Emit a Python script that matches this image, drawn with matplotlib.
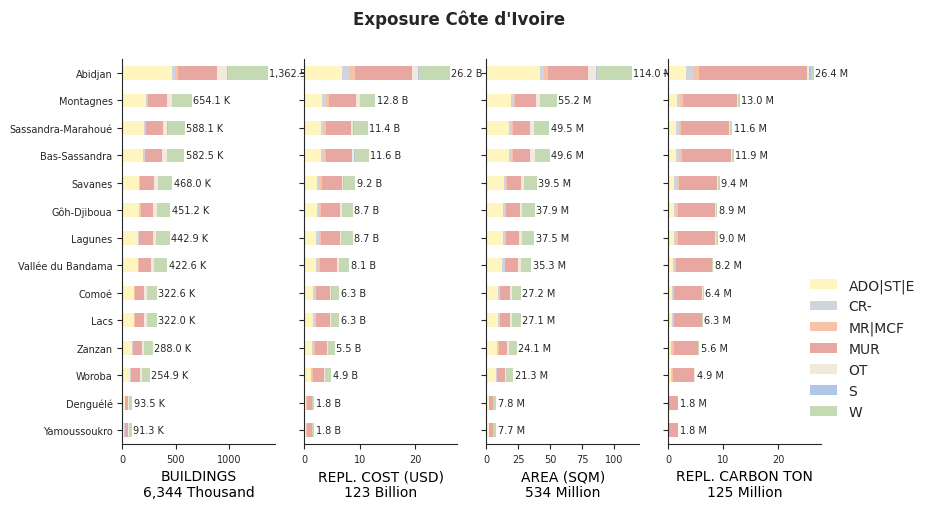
import numpy as np
import matplotlib
matplotlib.use("Agg")
import matplotlib.pyplot as plt

# Regions (top to bottom) and building-type categories
regions = [
    "Abidjan", "Montagnes", "Sassandra-Marahoué", "Bas-Sassandra", "Savanes",
    "Gôh-Djiboua", "Lagunes", "Vallée du Bandama", "Comoé", "Lacs",
    "Zanzan", "Woroba", "Denguélé", "Yamoussoukro",
]
categories = ["ADO|ST|E", "CR-", "MR|MCF", "MUR", "OT", "S", "W"]
colors = ["#fff5bf", "#d0d4df", "#f5c3a6", "#e8a7a1", "#f3e8de", "#b1c5e6", "#c5d9b3"]

# one row per region, columns follow `categories`
buildings_k = [  # thousands of buildings
    [467, 29, 25, 366, 95, 10, 370.5],
    [219, 10, 15, 175, 48, 0, 187.1],
    [200, 16, 3, 165, 38, 2, 164.1],
    [191, 22, 3, 156, 48, 0, 162.5],
    [153, 10, 6, 127, 38, 0, 134.0],
    [153, 13, 6, 114, 38, 0, 127.2],
    [143, 12, 4, 127, 29, 0, 127.9],
    [143, 3, 7, 114, 29, 0, 126.6],
    [105, 8, 2, 86, 29, 0, 92.6],
    [105, 8, 2, 86, 29, 0, 92.0],
    [95, 2, 4, 80, 19, 0, 88.0],
    [76, 7, 3, 76, 19, 0, 73.9],
    [22, 4, 4, 24, 8, 0, 31.5],
    [20, 4, 4, 24, 8, 0, 31.3],
]
cost_b = [  # replacement cost, billion USD
    [6.85, 1.27, 1.09, 10.18, 1.09, 0.18, 5.54],
    [3.21, 0.73, 0.55, 4.91, 0.55, 0, 2.85],
    [3.03, 0.55, 0.36, 4.55, 0.36, 0.18, 2.37],
    [3.03, 0.55, 0.36, 4.73, 0.36, 0.18, 2.39],
    [2.30, 0.36, 0.55, 3.64, 0.18, 0.18, 1.99],
    [2.30, 0.36, 0.36, 3.45, 0.36, 0, 1.87],
    [2.12, 0.55, 0.36, 3.45, 0.18, 0, 2.04],
    [2.12, 0.36, 0.36, 3.09, 0.36, 0, 1.81],
    [1.58, 0.45, 0.10, 2.55, 0.20, 0.15, 1.27],
    [1.58, 0.45, 0.10, 2.55, 0.18, 0, 1.44],
    [1.39, 0.36, 0.18, 2.18, 0.18, 0, 1.21],
    [1.21, 0.18, 0.18, 2.00, 0.18, 0, 1.15],
    [0.30, 0.05, 0.10, 0.95, 0.05, 0, 0.35],
    [0.32, 0.06, 0.08, 0.95, 0.05, 0, 0.34],
]
area_m = [  # floor area, million sqm
    [41.8, 3.2, 3.2, 31.7, 6.3, 0.8, 27.0],
    [19.6, 2.1, 1.1, 15.9, 3.2, 0, 13.3],
    [18.0, 2.1, 0.5, 14.0, 2.4, 0.5, 12.0],
    [18.0, 2.1, 0.5, 14.0, 3.2, 0, 11.8],
    [14.0, 1.6, 0.8, 11.1, 2.4, 0, 9.6],
    [13.2, 1.6, 0.8, 11.1, 1.6, 0, 9.6],
    [13.2, 1.6, 0.8, 10.3, 2.4, 0, 9.2],
    [12.4, 2.1, 0.5, 9.8, 2.4, 0, 8.1],
    [9.3, 1.3, 0, 8.2, 1.6, 0, 6.8],
    [9.3, 1.3, 0, 8.2, 1.6, 0, 6.7],
    [8.5, 0.6, 0.7, 6.6, 1.6, 0, 6.1],
    [7.7, 0.8, 0, 6.3, 0.8, 0, 5.7],
    [1.9, 0.3, 0.2, 3.0, 0.2, 0, 2.2],
    [1.8, 0.3, 0.2, 3.0, 0.2, 0, 2.2],
]
carbon_m = [  # replacement carbon, million tons
    [3.25, 1.29, 1.10, 19.47, 0.49, 0.25, 0.55],
    [1.60, 0.55, 0.55, 9.68, 0.25, 0, 0.37],
    [1.41, 0.55, 0.37, 8.70, 0.20, 0, 0.37],
    [1.41, 0.55, 0.55, 8.84, 0.20, 0, 0.35],
    [1.04, 0.55, 0.37, 6.94, 0.20, 0, 0.30],
    [1.04, 0.37, 0.37, 6.72, 0.20, 0, 0.20],
    [1.04, 0.37, 0.37, 6.67, 0.20, 0, 0.35],
    [0.85, 0.30, 0.30, 6.45, 0.10, 0, 0.20],
    [0.60, 0.25, 0.25, 5.05, 0.10, 0, 0.15],
    [0.60, 0.25, 0.25, 4.95, 0.10, 0, 0.15],
    [0.50, 0.20, 0.25, 4.45, 0.08, 0, 0.12],
    [0.45, 0.15, 0.20, 3.92, 0.06, 0, 0.12],
    [0.10, 0.02, 0.05, 1.60, 0.01, 0, 0.02],
    [0.10, 0.02, 0.05, 1.60, 0.01, 0, 0.02],
]

panels = [
    (buildings_k, "BUILDINGS", "{:,.1f} K", "{:,.0f} Thousand"),
    (cost_b, "REPL. COST (USD)", "{:,.1f} B", "{:,.0f} Billion"),
    (area_m, "AREA (SQM)", "{:,.1f} M", "{:,.0f} Million"),
    (carbon_m, "REPL. CARBON TON", "{:,.1f} M", "{:,.0f} Million"),
]

plt.rcParams["text.color"] = ".15"
plt.rcParams["axes.edgecolor"] = ".15"
plt.rcParams["xtick.color"] = ".15"
plt.rcParams["ytick.color"] = ".15"

fig, axes = plt.subplots(1, 4, figsize=(9.3, 5.1), dpi=100, sharey=True)
fig.subplots_adjust(left=0.1315, right=0.8828, bottom=0.1275, top=0.882, wspace=0.192)

y = np.arange(len(regions))
for ax, (data, name, fmt, total_fmt) in zip(axes, panels):
    vals = np.array(data, dtype=float)
    left = np.zeros(len(regions))
    handles = []
    for j, cat in enumerate(categories):
        bars = ax.barh(y, vals[:, j], left=left, height=0.5, color=colors[j],
                       label=cat, linewidth=0)
        handles.append(bars)
        left += vals[:, j]
    ax.bar_label(bars, labels=[fmt.format(t) for t in left], padding=1, fontsize=7)
    ax.set_xlabel(f"{name}\n{total_fmt.format(left.sum())}", fontsize=10)
    ax.tick_params(axis="both", labelsize=7)
    ax.spines["top"].set_visible(False)
    ax.spines["right"].set_visible(False)

axes[0].set_yticks(y)
axes[0].set_yticklabels(regions)
axes[0].set_ylim(len(regions) - 0.5, -0.5)

fig.legend(handles, categories, loc="center left", bbox_to_anchor=(0.857, 0.315),
           frameon=False, fontsize=10)
fig.suptitle("Exposure Côte d'Ivoire", fontsize=12, fontweight="bold", x=0.4935, y=0.98)

fig.savefig("out.png")
